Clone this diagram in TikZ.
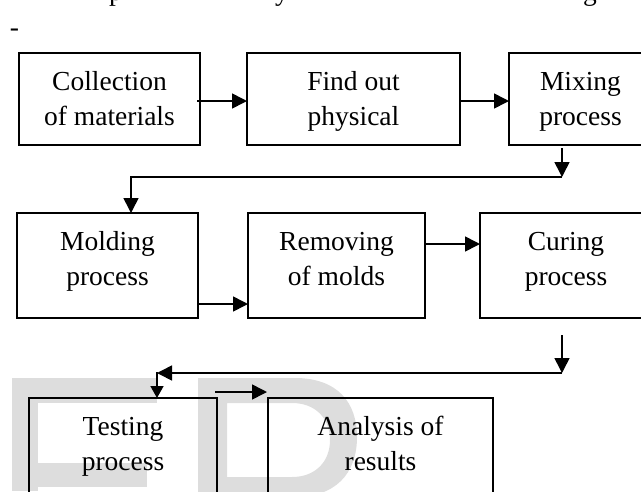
\documentclass[tikz,border=0pt]{standalone}
\usepackage{fontspec}
\setmainfont{Liberation Serif}
\usetikzlibrary{arrows.meta,calc}
\definecolor{wmgray}{RGB}{221,221,221}
\newcommand\twoline[3]{\raisebox{#3}[\height][\depth]{\begin{tabular}{@{}c@{}}#1\\#2\end{tabular}}}
\begin{document}
\begin{tikzpicture}[x=1pt,y=-1pt,
  stepbox/.style={draw=black, line width=1.8pt, rectangle, inner sep=0pt, outer sep=0pt,
    font=\fontsize{27.5}{35}\selectfont},
  txt/.style={inner sep=0pt, font=\fontsize{27.5}{35}\selectfont},
  arr/.style={line width=1.6pt, -{Triangle[length=15pt,width=15pt]}},
  smallarr/.style={line width=1.6pt, -{Triangle[length=12pt,width=13pt]}},
  wm/.style={fill=wmgray, draw=none}]
\useasboundingbox (0,0) rectangle (641,491);
\clip (0,0) rectangle (641,491);
% watermark
\fill[wm] (12,378) rectangle (38,491);
\fill[wm] (12,378) rectangle (157,403);
\fill[wm] (12,463) rectangle (147,487);
\fill[wm, even odd rule]
  (198,378) -- (295,378) .. controls (337,378) and (357,402) .. (357,437)
  .. controls (357,474) and (335,497) .. (295,497) -- (198,497) -- cycle
  (227,403) -- (292,403) .. controls (315,403) and (330,418) .. (330,440)
  .. controls (330,462) and (315,477) .. (292,477) -- (227,477) -- cycle;
% cut text at top
\node[txt, anchor=base] (f1) at (116,0.8) {p};
\node[txt, anchor=base] (f2) at (282,0.8) {y};
\node[txt, anchor=base] (f3) at (590,0.8) {g};
\node[txt, anchor=base] (dash) at (14.5,36) {-};
% boxes
\node[stepbox, minimum width=181pt, minimum height=92pt] (b1) at (109.5,99) {\twoline{Collection}{of materials}{-1.5pt}};
\node[stepbox, minimum width=213pt, minimum height=92pt] (b2) at (353.5,99) {\twoline{Find out}{physical}{-1.5pt}};
\node[stepbox, minimum width=143pt, minimum height=92pt] (b3) at (580.5,99) {\twoline{Mixing}{process}{-1.5pt}};
\node[stepbox, minimum width=181pt, minimum height=105pt] (m) at (107.5,265.5) {\twoline{Molding}{process}{5pt}};
\node[stepbox, minimum width=177pt, minimum height=105pt] (r) at (336.5,265.5) {\twoline{Removing}{of molds}{5pt}};
\node[stepbox, minimum width=172pt, minimum height=105pt] (c) at (566,265.5) {\twoline{Curing}{process}{5pt}};
\node[stepbox, minimum width=188pt, minimum height=105pt] (t) at (123,450.5) {\twoline{Testing}{process}{5pt}};
\node[stepbox, minimum width=225pt, minimum height=105pt] (a) at (380.5,450.5) {\twoline{Analysis of}{results}{5pt}};
% bend points
\coordinate (k1) at (562,177);
\coordinate (k2) at (562,373);
\coordinate (k3) at (157,373);
% connectors
\draw[arr] ($(b1.east)+(-3,2)$) -- ($(b2.west)+(0,2)$);
\draw[arr] ($(b2.east)+(0,2)$) -- ($(b3.west)+(0,2)$);
\draw[arr] ($(b3.south)+(-18.5,3)$) -- (k1);
\draw[arr] (k1) -| ($(m.north)+(23.5,0)$);
\draw[arr] ($(m.east)+(-1,38.5)$) -- ($(r.west)+(0,38.5)$);
\draw[arr] ($(r.east)+(0,-21.5)$) -- ($(c.west)+(0,-21.5)$);
\draw[arr] ($(c.south)+(-4,17)$) -- (k2);
\draw[arr] (k2) -- (k3);
\draw[smallarr] ($(k3)+(0,-1)$) -- (k3 |- t.north);
\draw[arr] ($(t.north east)+(-2,-6)$) -- ($(a.north west)+(-1,-6)$);
\end{tikzpicture}
\end{document}
